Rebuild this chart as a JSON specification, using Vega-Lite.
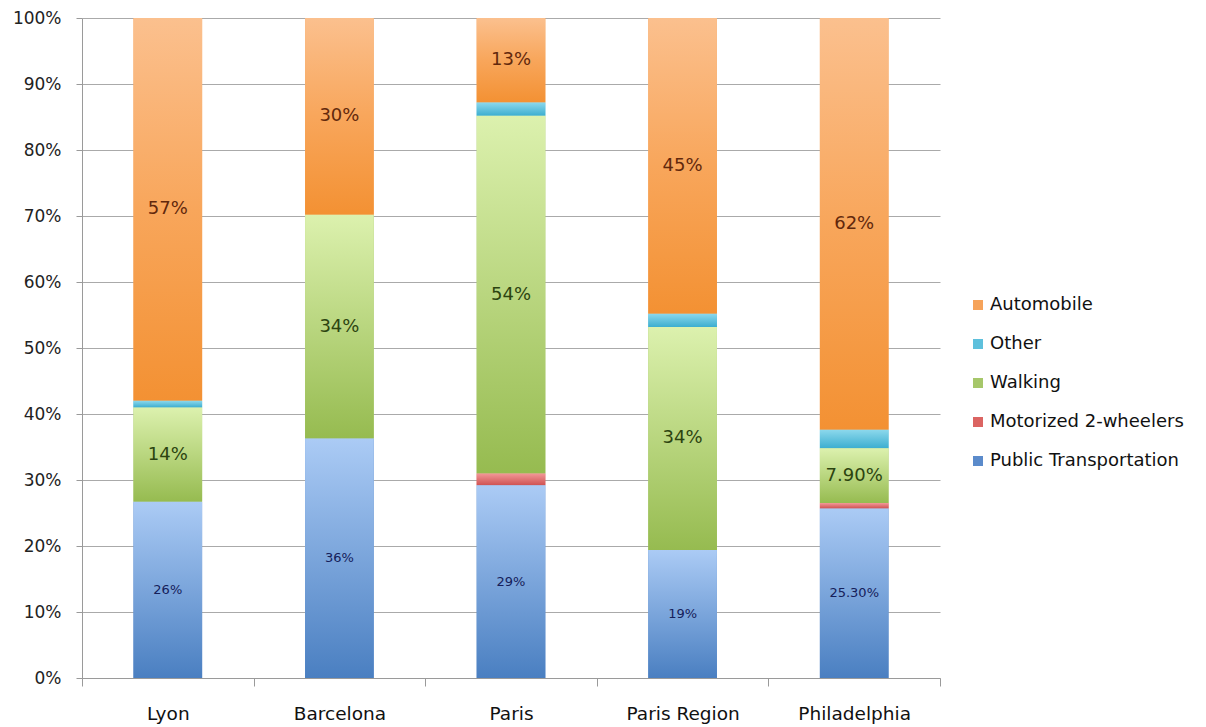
{
  "$schema": "https://vega.github.io/schema/vega-lite/v6.json",
  "width": 858,
  "height": 660,
  "autosize": {"type": "none"},
  "padding": {"left": 82, "top": 18, "right": 266, "bottom": 49},
  "background": "white",
  "config": {
    "view": {"stroke": null},
    "font": "DejaVu Sans"
  },
  "data": {
    "values": [
      {"city": "Lyon", "mode": "Public Transportation", "value": 26.7, "label": "26%"},
      {"city": "Lyon", "mode": "Walking", "value": 14.3, "label": "14%"},
      {"city": "Lyon", "mode": "Other", "value": 1.0, "label": ""},
      {"city": "Lyon", "mode": "Automobile", "value": 58.0, "label": "57%"},
      {"city": "Barcelona", "mode": "Public Transportation", "value": 36.3, "label": "36%"},
      {"city": "Barcelona", "mode": "Walking", "value": 33.9, "label": "34%"},
      {"city": "Barcelona", "mode": "Automobile", "value": 29.8, "label": "30%"},
      {"city": "Paris", "mode": "Public Transportation", "value": 29.2, "label": "29%"},
      {"city": "Paris", "mode": "Motorized 2-wheelers", "value": 1.8, "label": ""},
      {"city": "Paris", "mode": "Walking", "value": 54.2, "label": "54%"},
      {"city": "Paris", "mode": "Other", "value": 2.0, "label": ""},
      {"city": "Paris", "mode": "Automobile", "value": 12.8, "label": "13%"},
      {"city": "Paris Region", "mode": "Public Transportation", "value": 19.4, "label": "19%"},
      {"city": "Paris Region", "mode": "Walking", "value": 33.8, "label": "34%"},
      {"city": "Paris Region", "mode": "Other", "value": 2.0, "label": ""},
      {"city": "Paris Region", "mode": "Automobile", "value": 44.8, "label": "45%"},
      {"city": "Philadelphia", "mode": "Public Transportation", "value": 25.7, "label": "25.30%"},
      {"city": "Philadelphia", "mode": "Motorized 2-wheelers", "value": 0.8, "label": ""},
      {"city": "Philadelphia", "mode": "Walking", "value": 8.3, "label": "7.90%"},
      {"city": "Philadelphia", "mode": "Other", "value": 2.8, "label": ""},
      {"city": "Philadelphia", "mode": "Automobile", "value": 62.4, "label": "62%"}
    ]
  },
  "transform": [
    {"stack": "value", "groupby": ["city"], "as": ["y0", "y1"]}
  ],
  "encoding": {
    "x": {
      "field": "city",
      "type": "nominal",
      "sort": ["Lyon", "Barcelona", "Paris", "Paris Region", "Philadelphia"],
      "scale": {"paddingInner": 0, "paddingOuter": 0},
      "axis": {
        "title": null,
        "labelAngle": 0,
        "labelFontSize": 18.5,
        "labelColor": "#111111",
        "labelPadding": 18,
        "tickBand": "extent",
        "tickSize": 8,
        "tickColor": "#9a9a9a",
        "domainColor": "#9a9a9a",
        "grid": false
      }
    },
    "y": {
      "field": "y0",
      "type": "quantitative",
      "scale": {"domain": [0, 100]},
      "axis": {
        "title": null,
        "values": [0, 10, 20, 30, 40, 50, 60, 70, 80, 90, 100],
        "labelExpr": "datum.value + '%'",
        "labelFontSize": 17,
        "labelColor": "#222222",
        "labelPadding": 15,
        "tickSize": 6,
        "tickColor": "#9a9a9a",
        "domainColor": "#9a9a9a",
        "gridColor": "#aaaaaa",
        "gridWidth": 1
      }
    },
    "y2": {"field": "y1"}
  },
  "layer": [
    {
      "mark": {"type": "bar", "width": {"band": 0.4}},
      "encoding": {
        "color": {
          "field": "mode",
          "type": "nominal",
          "scale": {
            "domain": ["Automobile", "Other", "Walking", "Motorized 2-wheelers", "Public Transportation"],
            "range": ["#f6a35a", "#5ec0dc", "#a6c76a", "#db6462", "#5b8bcb"]
          },
          "legend": {
            "title": null,
            "orient": "none",
            "legendX": 887,
            "legendY": 278,
            "padding": 0,
            "symbolType": "square",
            "symbolSize": 100,
            "symbolStrokeWidth": 0,
            "labelFontSize": 18,
            "labelColor": "#111111",
            "labelOffset": 3,
            "rowPadding": 21,
            "labelLimit": 300
          }
        }
      }
    },
    {
      "transform": [{"filter": "datum.mode === 'Automobile'"}],
      "mark": {"type": "bar", "width": {"band": 0.4}, "color": {"gradient": "linear", "x1": 0, "y1": 0, "x2": 0, "y2": 1, "stops": [{"offset": 0, "color": "#fbc08e"}, {"offset": 0.5, "color": "#f8a65b"}, {"offset": 1, "color": "#f39133"}]}}
    },
    {
      "transform": [{"filter": "datum.mode === 'Other'"}],
      "mark": {"type": "bar", "width": {"band": 0.4}, "color": {"gradient": "linear", "x1": 0, "y1": 0, "x2": 0, "y2": 1, "stops": [{"offset": 0, "color": "#8cd8ec"}, {"offset": 1, "color": "#3caed0"}]}}
    },
    {
      "transform": [{"filter": "datum.mode === 'Walking'"}],
      "mark": {"type": "bar", "width": {"band": 0.4}, "color": {"gradient": "linear", "x1": 0, "y1": 0, "x2": 0, "y2": 1, "stops": [{"offset": 0, "color": "#dcf1ae"}, {"offset": 1, "color": "#96bb50"}]}}
    },
    {
      "transform": [{"filter": "datum.mode === 'Motorized 2-wheelers'"}],
      "mark": {"type": "bar", "width": {"band": 0.4}, "color": {"gradient": "linear", "x1": 0, "y1": 0, "x2": 0, "y2": 1, "stops": [{"offset": 0, "color": "#f29898"}, {"offset": 1, "color": "#cf5252"}]}}
    },
    {
      "transform": [{"filter": "datum.mode === 'Public Transportation'"}],
      "mark": {"type": "bar", "width": {"band": 0.4}, "color": {"gradient": "linear", "x1": 0, "y1": 0, "x2": 0, "y2": 1, "stops": [{"offset": 0, "color": "#abcbf5"}, {"offset": 1, "color": "#4a7fc1"}]}}
    },
    {
      "transform": [
        {"filter": "datum.label != ''"},
        {"fold": ["y0", "y1"], "as": ["k", "pos"]}
      ],
      "mark": {"type": "text", "baseline": "middle", "align": "center"},
      "encoding": {
        "y": {"field": "pos", "type": "quantitative", "aggregate": "mean", "stack": null},
        "y2": null,
        "detail": {"field": "mode", "type": "nominal"},
        "text": {"field": "label", "type": "nominal"},
        "size": {
          "condition": {"test": "datum.mode === 'Public Transportation'", "value": 13},
          "value": 18
        },
        "color": {
          "condition": [
            {"test": "datum.mode === 'Public Transportation'", "value": "#15205a"},
            {"test": "datum.mode === 'Walking'", "value": "#2c4410"}
          ],
          "value": "#62280c"
        }
      }
    }
  ]
}
